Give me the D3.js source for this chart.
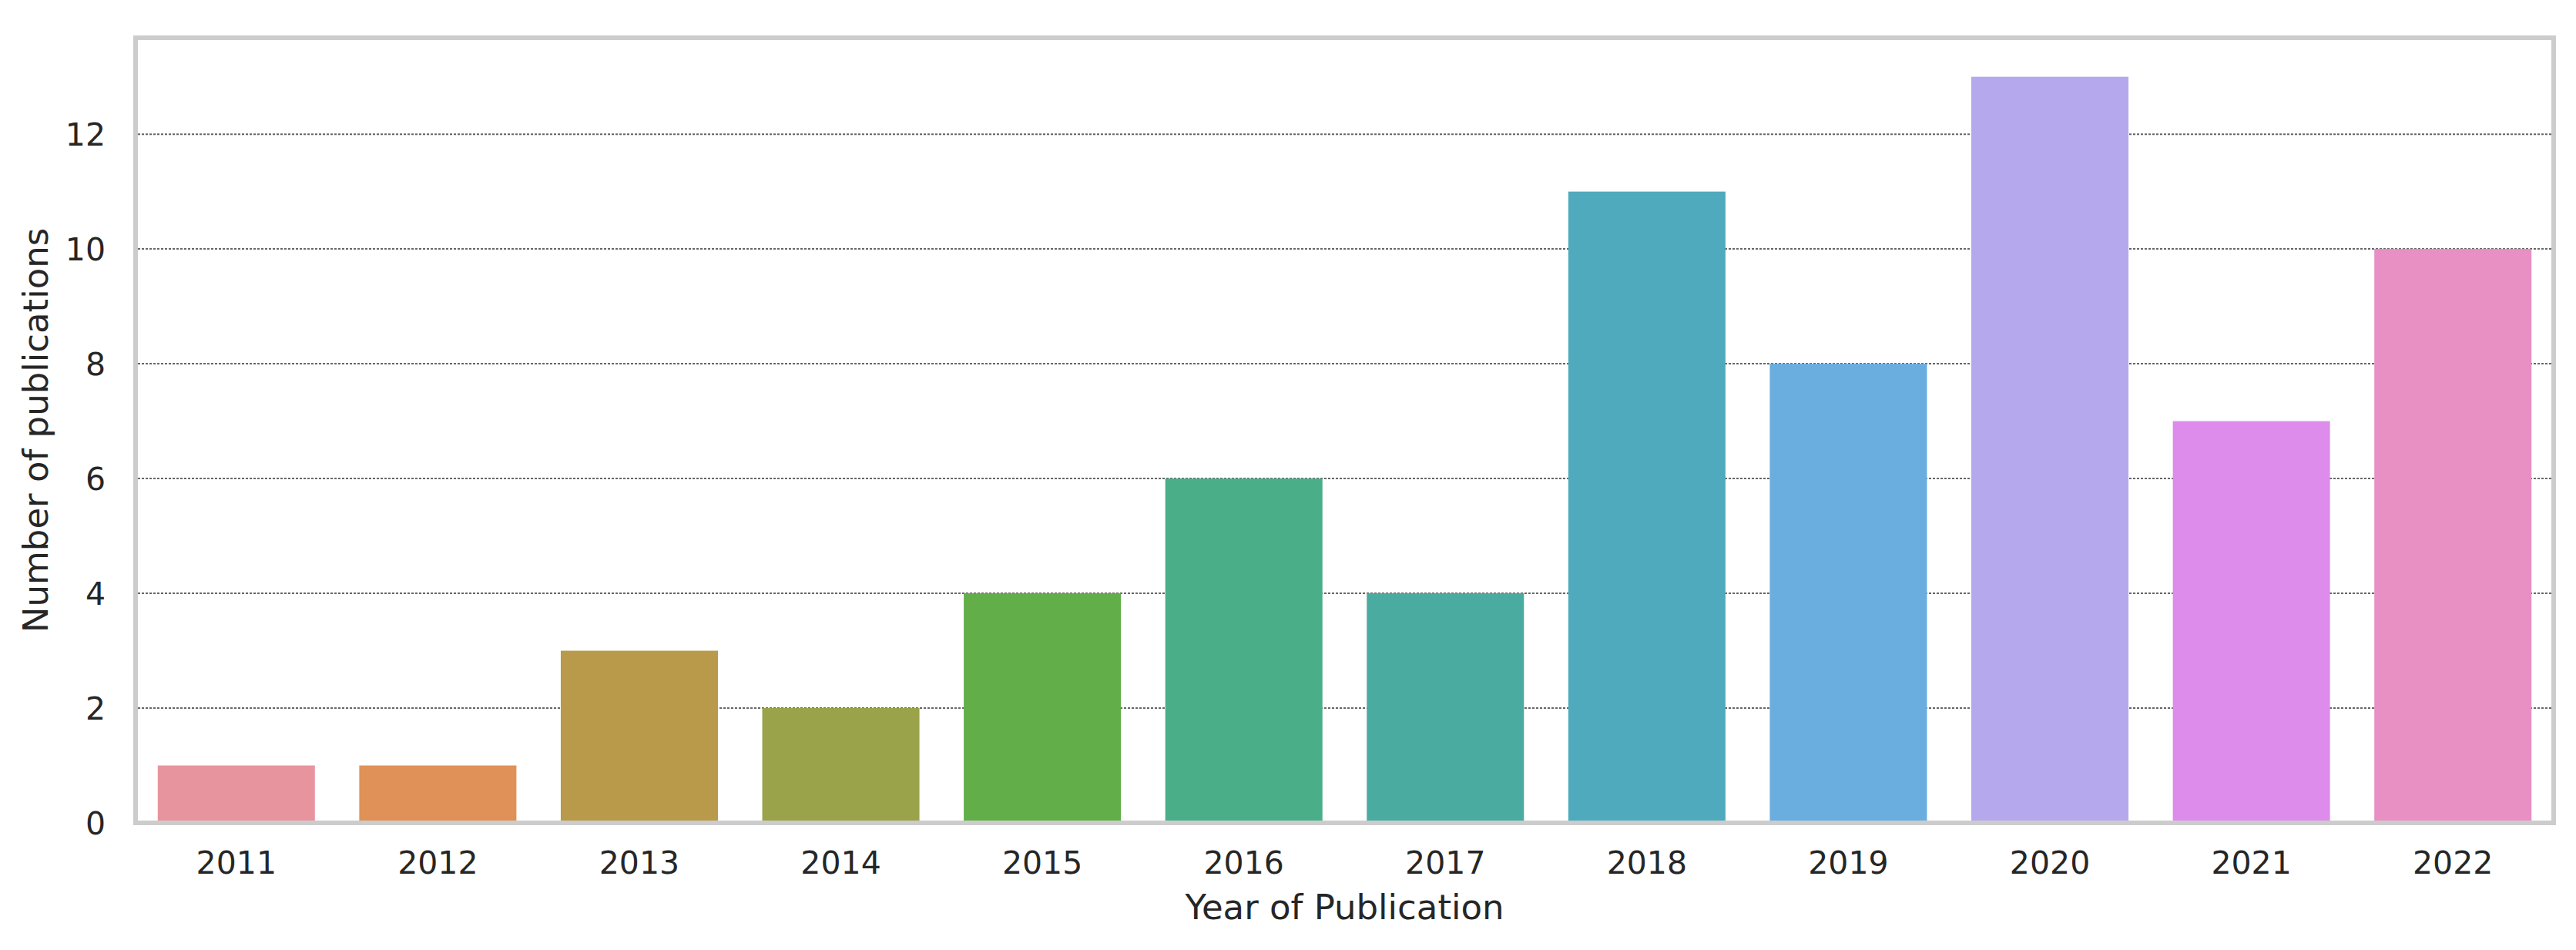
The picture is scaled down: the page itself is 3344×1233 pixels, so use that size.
<!DOCTYPE html>
<html>
<head>
<meta charset="utf-8">
<script src="https://cdn.jsdelivr.net/npm/d3@7"></script>
<style>
  html, body { margin: 0; padding: 0; background: #ffffff; }
  svg { display: block; }
  text { font-family: "DejaVu Sans", sans-serif; fill: #262626; }
</style>
</head>
<body>
<svg id="chart" width="3344" height="1233"></svg>
<script>
const years = ["2011","2012","2013","2014","2015","2016","2017","2018","2019","2020","2021","2022"];
const counts = [1, 1, 3, 2, 4, 6, 4, 11, 8, 13, 7, 10];
const barColors = ["#e8949f","#e09157","#b89a4a","#9aa349","#62ae48","#4aae89",
                   "#4aaba0","#50aabd","#6aaee0","#b6a8ec","#de8ceb","#e88fc4"];
const yTicks = [0, 2, 4, 6, 8, 10, 12];
const xTitle = "Year of Publication";
const yTitle = "Number of publications";

(function () {
const mLeft = 176, mRight = 3315, mTop = 49, mBottom = 1068;

const svg = d3.select("#chart");

const x = d3.scaleBand().domain(years).range([mLeft, mRight]).paddingInner(0.22).paddingOuter(0.11);
const y = d3.scaleLinear().domain([0, 13.68]).range([mBottom, mTop]);

// grid
svg.append("g")
  .selectAll("line")
  .data(yTicks.filter(d => d > 0))
  .join("line")
  .attr("x1", mLeft + 3).attr("x2", mRight - 3)
  .attr("y1", d => y(d)).attr("y2", d => y(d))
  .attr("stroke", "#666666")
  .attr("stroke-width", 2)
  .attr("stroke-dasharray", "3 2");

// bars
svg.append("g")
  .selectAll("rect")
  .data(years.map((yr, i) => ({yr, v: counts[i], c: barColors[i]})))
  .join("rect")
  .attr("x", d => x(d.yr))
  .attr("width", x.bandwidth())
  .attr("y", d => y(d.v))
  .attr("height", d => y(0) - y(d.v))
  .attr("fill", d => d.c);

// frame
svg.append("rect")
  .attr("x", mLeft).attr("y", mTop)
  .attr("width", mRight - mLeft).attr("height", mBottom - mTop)
  .attr("fill", "none")
  .attr("stroke", "#cccccc")
  .attr("stroke-width", 6);

// y axis
const yAxis = d3.axisLeft(y).tickValues(yTicks).tickSize(0).tickPadding(39).tickFormat(d3.format("d"));
const gy = svg.append("g").attr("transform", `translate(${mLeft},0)`).call(yAxis);
gy.select(".domain").remove();
gy.selectAll("text")
  .attr("font-family", "DejaVu Sans")
  .attr("font-size", 41)
  .attr("fill", "#262626")
  .attr("dy", "0.36em");

// x axis
const xAxis = d3.axisBottom(x).tickSize(0).tickPadding(37);
const gx = svg.append("g").attr("transform", `translate(0,${mBottom})`).call(xAxis);
gx.select(".domain").remove();
gx.selectAll("text")
  .attr("font-family", "DejaVu Sans")
  .attr("font-size", 41)
  .attr("fill", "#262626")
  .attr("dy", "0.71em");

// titles
svg.append("text")
  .attr("x", (mLeft + mRight) / 2)
  .attr("y", 1193)
  .attr("text-anchor", "middle")
  .attr("font-size", 45)
  .text(xTitle);

svg.append("text")
  .attr("transform", `translate(62,${(mTop + mBottom) / 2}) rotate(-90)`)
  .attr("text-anchor", "middle")
  .attr("font-size", 45)
  .text(yTitle);
})();
</script>
</body>
</html>
